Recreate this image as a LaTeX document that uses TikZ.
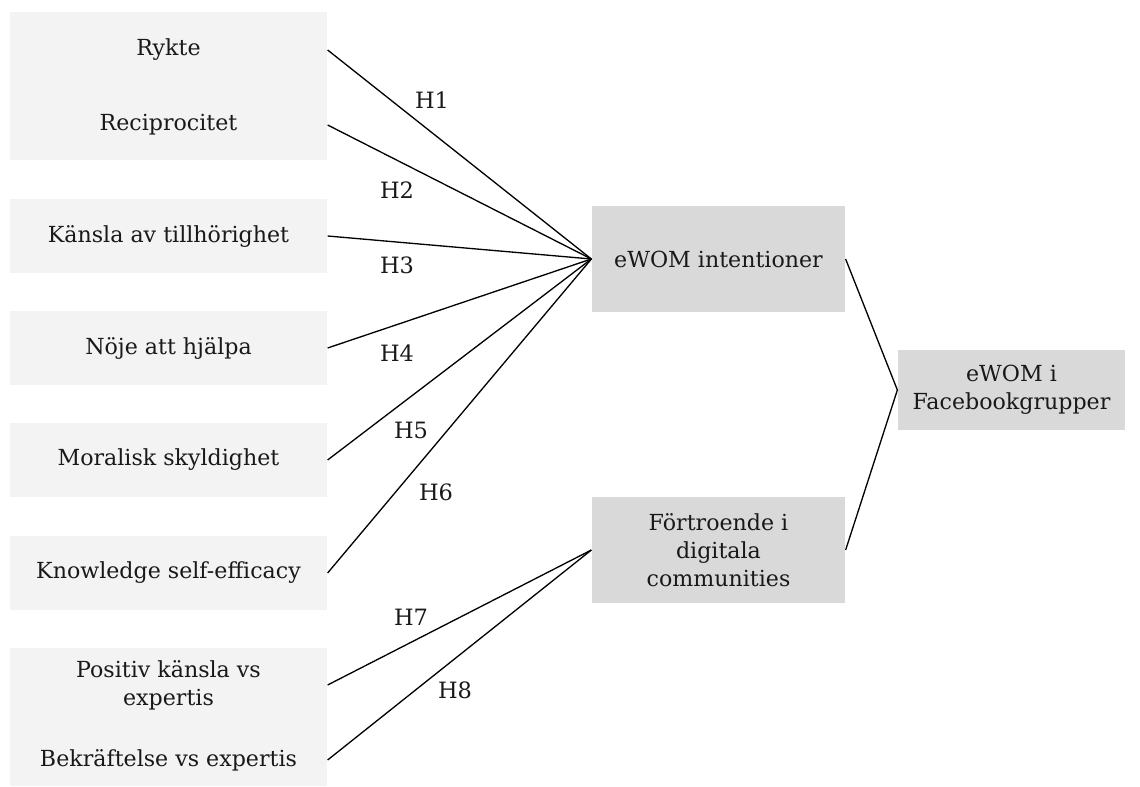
\documentclass[tikz,border=0pt]{standalone}
\usepackage{fontspec}
\setmainfont{DejaVu Serif}
\definecolor{lightbox}{HTML}{F3F3F3}
\definecolor{midbox}{HTML}{D9D9D9}
\tikzset{
  every node/.append style={inner sep=0pt, text=black!90, font=\fontsize{12.6}{16}\selectfont},
  srcbox/.style={fill=lightbox, minimum width=6.34cm},
  midnode/.style={fill=midbox, minimum width=5.06cm, minimum height=2.12cm, align=center},
  hlabel/.style={font=\fontsize{12.8}{14}\selectfont}
}
\begin{document}
\begin{tikzpicture}[x=0.02cm,y=-0.02cm,line width=0.75pt]
    \useasboundingbox (0,0) rectangle (1140,787);
    % left boxes
    \node [srcbox, minimum height=2.96cm] (boxa) at (168.5,86) {};
    \node (rykte) at (168.5,50) {Rykte};
    \node (recip) at (168.5,125) {Reciprocitet};
    \node [srcbox, minimum height=1.48cm] (kansla) at (168.5,236) {Känsla av tillhörighet};
    \node [srcbox, minimum height=1.48cm] (noje) at (168.5,348) {Nöje att hjälpa};
    \node [srcbox, minimum height=1.48cm] (moral) at (168.5,460) {Moralisk skyldighet};
    \node [srcbox, minimum height=1.48cm] (knowl) at (168.5,573) {Knowledge self-efficacy};
    \node [srcbox, minimum height=2.78cm] (boxf) at (168.5,717) {};
    \node [align=center] (posit) at (168.5,685) {Positiv känsla vs\\expertis};
    \node (bekr) at (168.5,760) {Bekräftelse vs expertis};
    % middle and right boxes
    \node [midnode] (intent) at (718.5,259) {eWOM intentioner};
    \node [midnode] (trust) at (718.5,550) {Förtroende i\\digitala\\communities};
    \node [midnode, minimum width=4.54cm, minimum height=1.6cm] (fbgroup) at (1011.5,390) {eWOM i\\Facebookgrupper};
    % connectors
    \draw [black] (rykte -| boxa.east) -- (intent.west);
    \draw [black] (recip -| boxa.east) -- (intent.west);
    \draw [black] (kansla.east) -- (intent.west);
    \draw [black] (noje.east) -- (intent.west);
    \draw [black] (moral.east) -- (intent.west);
    \draw [black] (knowl.east) -- (intent.west);
    \draw [black] (posit -| boxf.east) -- (trust.west);
    \draw [black] (bekr -| boxf.east) -- (trust.west);
    \draw [black] (intent.east) -- (fbgroup.west);
    \draw [black] (trust.east) -- (fbgroup.west);
    % labels
    \node [hlabel] (h1) at (432,100) {H1};
    \node [hlabel] (h2) at (397,190) {H2};
    \node [hlabel] (h3) at (397,265) {H3};
    \node [hlabel] (h4) at (397,353) {H4};
    \node [hlabel] (h5) at (411,430) {H5};
    \node [hlabel] (h6) at (436,492) {H6};
    \node [hlabel] (h7) at (411,617) {H7};
    \node [hlabel] (h8) at (455,690) {H8};
\end{tikzpicture}
\end{document}
